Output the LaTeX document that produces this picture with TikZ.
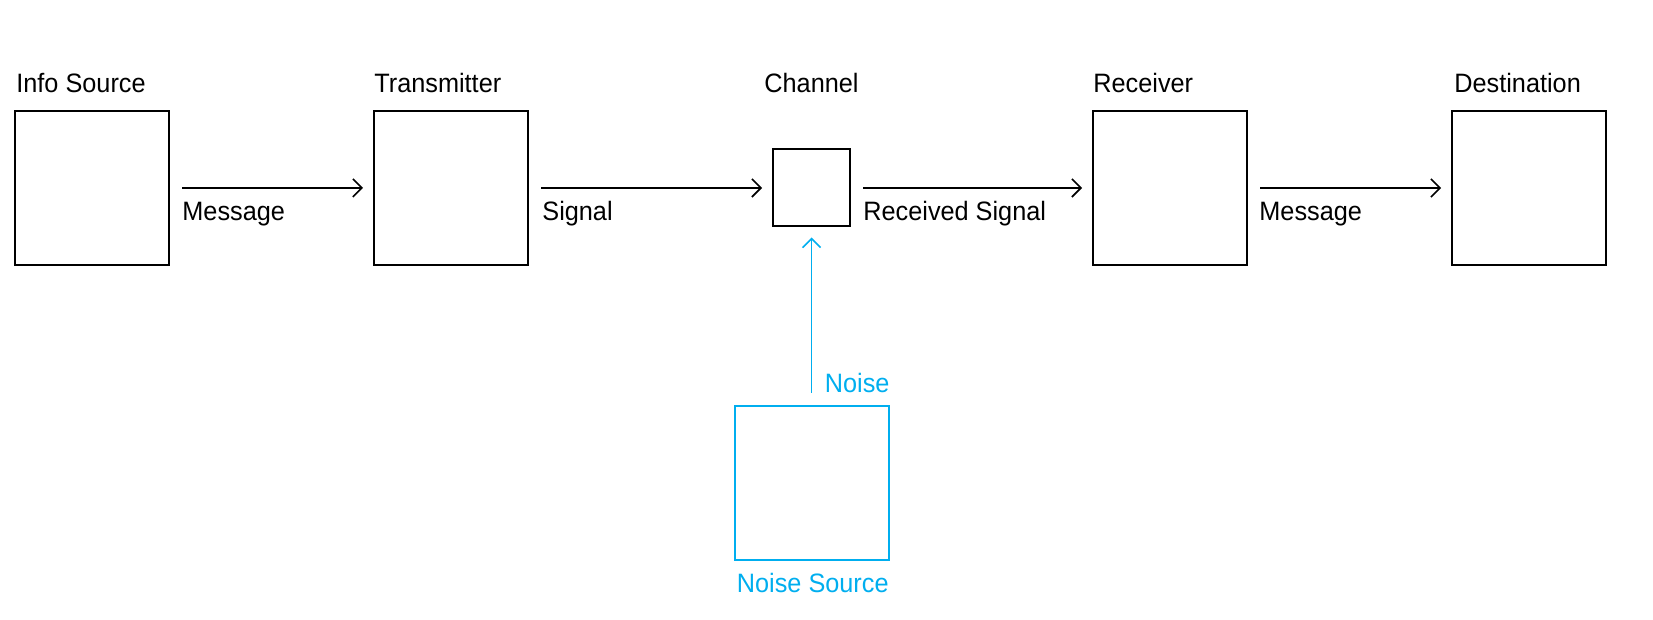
\documentclass[tikz,border=0pt]{standalone}
\usepackage{fontspec}
\setmainfont[FakeStretch=0.95]{Liberation Sans}
\usepackage{tikz}
\usetikzlibrary{arrows.meta}
\definecolor{noiseblue}{RGB}{0,174,239}
\newlength{\CommBoxSep}
\setlength{\CommBoxSep}{102.5pt}
\tikzset{/comm/box/.style={
	shape=rectangle, draw, line width=1pt, minimum size=77pt, inner sep=0pt, outer sep=0pt
}}
\tikzset{/comm/channel/.style={/comm/box, minimum size=38.5pt}}
\tikzset{/comm/label/.style={inner sep=0pt, font=\fontsize{13.3}{16}\selectfont}}
\tikzset{/comm/flow/.style={
	draw, line width=0.8pt, -{Straight Barb[length=4.5pt, width=9pt]}, shorten <=6.5pt, shorten >=5.5pt
}}

\begin{document}
\begin{tikzpicture}[x=0.5pt, y=0.5pt]
			\useasboundingbox (0,0) rectangle (1653,620);
			\path (92,432) node[/comm/box] (info) {};
			\path (info.east) ++ (\CommBoxSep, 0) node[anchor=west, /comm/box] (trans) {};
			\path (trans.east) ++ (245, 0) node[anchor=west, /comm/channel] (chan) {};
			\path (chan.east) ++ (243, 0) node[anchor=west, /comm/box] (recv) {};
			\path (recv.east) ++ (\CommBoxSep, 0) node[anchor=west, /comm/box] (dest) {};
			\path (chan |- 0,137) node[/comm/box, noiseblue] (noise) {};
			% box titles
			\path (info.north west) ++ (1, 18) node[anchor=base west, /comm/label] (infoL) {Info Source};
			\path (trans.north west) ++ (0, 18) node[anchor=base west, /comm/label] (transL) {Transmitter};
			\path (chan |- info.north) ++ (0, 18) node[anchor=base, /comm/label] (chanL) {Channel};
			\path (recv.north west) ++ (0, 18) node[anchor=base west, /comm/label] (recvL) {Receiver};
			\path (dest.north west) ++ (2, 18) node[anchor=base west, /comm/label] (destL) {Destination};
			\path (noise.south west) ++ (2, -33) node[anchor=base west, /comm/label, noiseblue] (noiseL) {Noise Source};
			% flows
			\path[/comm/flow] (info) -- (trans);
			\path[/comm/flow] (trans) -- (chan);
			\path[/comm/flow] (chan) -- (recv);
			\path[/comm/flow] (recv) -- (dest);
			\path[/comm/flow, noiseblue] (noise) -- (chan);
			\path (info.east) ++ (13, -33) node[anchor=base west, /comm/label] (msgA) {Message};
			\path (trans.east) ++ (14, -33) node[anchor=base west, /comm/label] (sig) {Signal};
			\path (chan.east) ++ (13, -33) node[anchor=base west, /comm/label] (rsig) {Received Signal};
			\path (recv.east) ++ (12, -33) node[anchor=base west, /comm/label] (msgB) {Message};
			\path (noise.north) ++ (13, 13) node[anchor=base west, /comm/label, noiseblue] (noiseN) {Noise};
		\end{tikzpicture}
\end{document}
